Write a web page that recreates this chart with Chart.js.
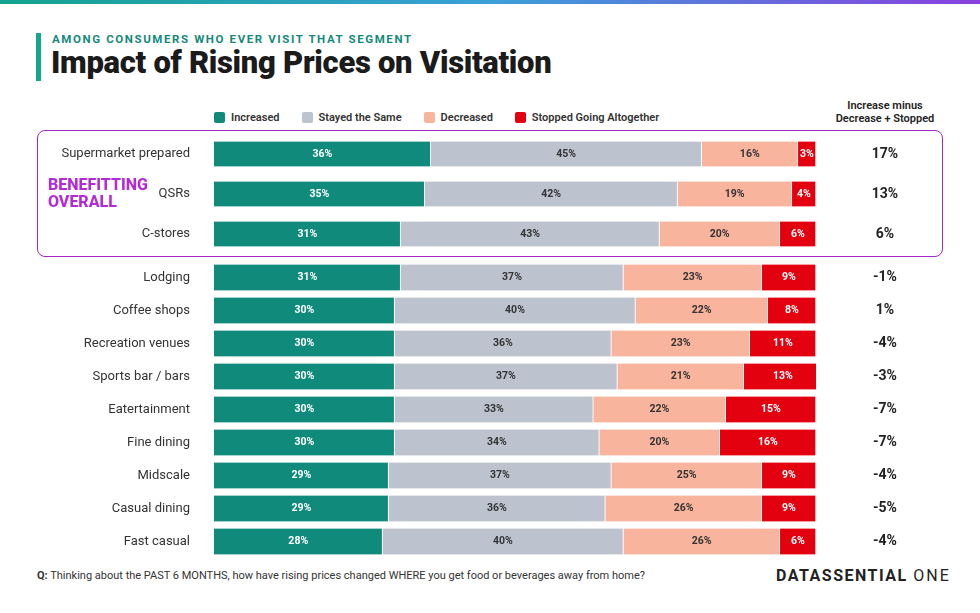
<!DOCTYPE html>
<html><head><meta charset="utf-8">
<script src="https://cdn.jsdelivr.net/npm/chart.js@4.4.0/dist/chart.umd.min.js"></script>
<style>
body{margin:0;width:980px;height:613px;background:#fff;font-family:Roboto,"Open Sans",sans-serif;position:relative;overflow:hidden}
.abs{position:absolute}
#topline{left:0;top:0;width:980px;height:4px;background:linear-gradient(90deg,#13a38f,#3aa0d8,#8a3fe0)}
#vbar{left:36px;top:33px;width:5px;height:48px;background:#17a58c}
#sub{left:52px;top:32px;font-size:11.5px;font-weight:700;letter-spacing:1.6px;color:#138a78}
#title{left:51px;top:44px;font-size:31px;font-weight:900;color:#1b1b1b;letter-spacing:-0.3px}
#legend{left:214px;top:111px;font-size:11px;font-weight:600;color:#333;display:flex;gap:0}
#legend span{display:inline-flex;align-items:center;margin-right:22px}
#legend i{display:inline-block;width:11px;height:11px;border-radius:2px;margin-right:6px}
#diffhead{left:828px;top:99px;width:114px;text-align:center;font-size:11px;font-weight:600;color:#222;line-height:13px}
#box{left:37px;top:130px;width:904px;height:125px;border:1.5px solid #a12ac0;border-radius:8px}
#benef{left:48px;top:176px;font-size:16px;font-weight:800;color:#b22bd6;line-height:17px}
#q{left:37px;top:569px;font-size:11px;color:#333}
#logo{left:776px;top:566px;font-size:16px;font-weight:700;color:#222;letter-spacing:1.5px}
canvas{position:absolute;left:0}
</style></head><body>
<div id="topline" class="abs"></div>
<div id="vbar" class="abs"></div>
<div id="sub" class="abs">AMONG CONSUMERS WHO EVER VISIT THAT SEGMENT</div>
<div id="title" class="abs">Impact of Rising Prices on Visitation</div>
<div id="legend" class="abs">
<span><i style="background:#108a7a"></i>Increased</span>
<span><i style="background:#bcc3cf"></i>Stayed the Same</span>
<span><i style="background:#f8b49c"></i>Decreased</span>
<span><i style="background:#e3000f"></i>Stopped Going Altogether</span>
</div>
<div id="diffhead" class="abs">Increase minus<br>Decrease + Stopped</div>
<div id="box" class="abs"></div>
<canvas id="c1" width="980" height="120" style="top:134px;width:980px;height:120px"></canvas>
<canvas id="c2" width="980" height="297" style="top:261px;width:980px;height:297px"></canvas>
<div id="benef" class="abs">BENEFITTING<br>OVERALL</div>
<div id="q" class="abs"><b>Q:</b> Thinking about the PAST 6 MONTHS, how have rising prices changed WHERE you get food or beverages away from home?</div>
<div id="logo" class="abs">DATASSENTIAL <span style="font-weight:400;letter-spacing:2px">ONE</span></div>
<script>
const topCats = ['Supermarket prepared', 'QSRs', 'C-stores'];
const topIncreased = [36, 35, 31];
const topSame = [45, 42, 43];
const topDecreased = [16, 19, 20];
const topStopped = [3, 4, 6];
const topDiff = ['17%', '13%', '6%'];

const cats = ['Lodging', 'Coffee shops', 'Recreation venues', 'Sports bar / bars', 'Eatertainment', 'Fine dining', 'Midscale', 'Casual dining', 'Fast casual'];
const increased = [31, 30, 30, 30, 30, 30, 29, 29, 28];
const same = [37, 40, 36, 37, 33, 34, 37, 36, 40];
const decreased = [23, 22, 23, 21, 22, 20, 25, 26, 26];
const stopped = [9, 8, 11, 13, 15, 16, 9, 9, 6];
const diff = ['-1%', '1%', '-4%', '-3%', '-7%', '-7%', '-4%', '-5%', '-4%'];

const colors = ['#108a7a', '#bcc3cf', '#f8b49c', '#e3000f'];
const textCol = ['#fff', '#333', '#333', '#fff'];

const labelPlugin = {
    id: 'barText',
    afterDatasetsDraw(chart) {
        const ctx = chart.ctx;
        ctx.save();
        ctx.textBaseline = 'middle';
        ctx.textAlign = 'center';
        ctx.font = '700 10.5px Roboto';
        chart.data.datasets.forEach((ds, i) => {
            chart.getDatasetMeta(i).data.forEach((bar, j) => {
                ctx.fillStyle = textCol[i];
                ctx.fillText(ds.data[j] + '%', (bar.x + bar.base) / 2, bar.y);
            });
        });
        ctx.font = '700 14px Roboto';
        ctx.fillStyle = '#222';
        chart.getDatasetMeta(0).data.forEach((bar, j) => {
            ctx.fillText(chart.$diffs[j], 885, bar.y);
        });
        ctx.restore();
    }
};

function make(id, labels, series, diffs, thick) {
    return new Chart(document.getElementById(id), {
        type: 'bar',
        data: {
            labels: labels,
            datasets: series.map((d, i) => ({
                data: d,
                backgroundColor: colors[i],
                borderColor: '#fff',
                borderWidth: {left: 0, right: 1, top: 0, bottom: 0},
                borderSkipped: false,
                barThickness: thick
            }))
        },
        plugins: [{ id: 'pre', beforeInit(c) { c.$diffs = diffs; } }, labelPlugin],
        options: {
            indexAxis: 'y',
            responsive: false,
            devicePixelRatio: 1,
            animation: false,
            layout: { padding: { left: 0, right: 164, top: 0, bottom: 0 } },
            plugins: { legend: { display: false }, tooltip: { enabled: false } },
            scales: {
                x: { stacked: true, min: 0, max: 100, display: false },
                y: {
                    stacked: true,
                    grid: { display: false },
                    border: { display: false },
                    ticks: { color: '#333', font: { size: 13, family: 'Roboto' }, padding: 16 },
                    afterFit: (s) => { s.width = 214; s.paddingTop = 0; s.paddingBottom = 0; }
                }
            }
        }
    });
}

make('c1', topCats, [topIncreased, topSame, topDecreased, topStopped], topDiff, 25);
make('c2', cats, [increased, same, decreased, stopped], diff, 26);
</script>
</body></html>
